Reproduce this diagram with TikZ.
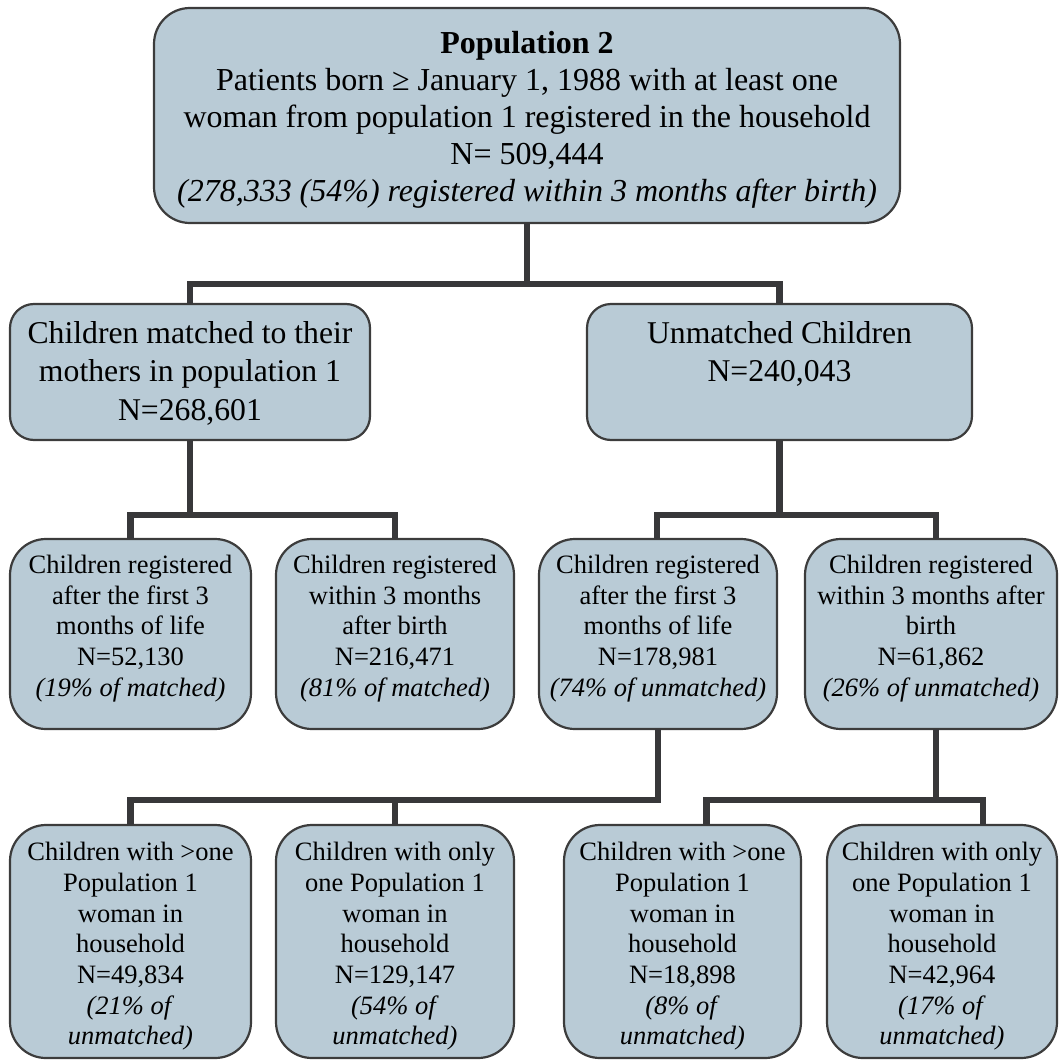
\documentclass[tikz,border=0pt]{standalone}
\usepackage{fontspec}
\setmainfont{Liberation Serif}
\usetikzlibrary{calc}

\definecolor{boxfill}{HTML}{B9CBD6}
\definecolor{boxline}{HTML}{3C3C3C}
\definecolor{linkc}{HTML}{38383A}

\tikzset{
  box/.style={draw=boxline, line width=2.2pt, fill=boxfill,
    rounded corners=#1, anchor=north west, inner sep=0pt, outer sep=0pt},
  box/.default=36pt,
  txt/.style={align=center, inner sep=0pt, anchor=north, text=black},
  fbig/.style={font=\fontsize{32}{37}\selectfont},
  fmid/.style={font=\fontsize{31.7}{38.5}\selectfont},
  fsmall/.style={font=\fontsize{26.5}{30.7}\selectfont},
  conn/.style={draw=linkc, line width=6.5pt, line join=miter}
}

\begin{document}
\begin{tikzpicture}[x=1pt, y=-1pt]
\useasboundingbox (0,0) rectangle (1059,1062);

% levels of the horizontal connector bars
\coordinate (lvA) at (0,284);
\coordinate (lvB) at (0,515);
\coordinate (lvC) at (0,800);

% boxes
\node[box, minimum width=746pt, minimum height=215pt] (top) at (154,8) {};
\node[box=24pt, minimum width=360pt, minimum height=136pt] (ml) at (10,304) {};
\node[box=24pt, minimum width=385pt, minimum height=136pt] (mr) at (587,304) {};

\node[box, minimum width=241pt, minimum height=190pt] (a3) at (10,539) {};
\node[box, minimum width=238pt, minimum height=190pt] (b3) at (276,539) {};
\node[box, minimum width=238pt, minimum height=190pt] (c3) at (539,539) {};
\node[box, minimum width=252pt, minimum height=190pt] (d3) at (805,539) {};

\node[box, minimum width=241pt, minimum height=233pt] (a4) at (10,825) {};
\node[box, minimum width=238pt, minimum height=233pt] (b4) at (276,825) {};
\node[box, minimum width=237pt, minimum height=233pt] (c4) at (564,825) {};
\node[box, minimum width=230pt, minimum height=233pt] (d4) at (827,825) {};

% texts
\node[txt, fbig, anchor=center] (ttop) at ([yshift=-4pt]top.center)
  {\textbf{Population 2}\\
   Patients born ≥ January 1, 1988 with at least one\\
   woman from population 1 registered in the household\\
   N= 509,444\\
   \textit{(278,333 (54\%) registered within 3 months after birth)}};

\node[txt, fmid] (tml) at ([yshift=-17pt]ml.north)
  {Children matched to their\\mothers in population 1\\N=268,601};
\node[txt, fmid] (tmr) at ([yshift=-17pt]mr.north)
  {Unmatched Children\\N=240,043};

\node[txt, fsmall] (ta3) at ([yshift=-16pt]a3.north)
  {Children registered\\after the first 3\\months of life\\N=52,130\\\textit{(19\% of matched)}};
\node[txt, fsmall] (tb3) at ([yshift=-16pt]b3.north)
  {Children registered\\within 3 months\\after birth\\N=216,471\\\textit{(81\% of matched)}};
\node[txt, fsmall] (tc3) at ([yshift=-16pt]c3.north)
  {Children registered\\after the first 3\\months of life\\N=178,981\\\textit{(74\% of unmatched)}};
\node[txt, fsmall] (td3) at ([yshift=-16pt]d3.north)
  {Children registered\\within 3 months after\\birth\\N=61,862\\\textit{(26\% of unmatched)}};

\node[txt, fsmall] (ta4) at ([yshift=-17pt]a4.north)
  {Children with >one\\Population 1\\woman in\\household\\N=49,834\\\textit{(21\% of}\\\textit{unmatched)}};
\node[txt, fsmall] (tb4) at ([yshift=-17pt]b4.north)
  {Children with only\\one Population 1\\woman in\\household\\N=129,147\\\textit{(54\% of}\\\textit{unmatched)}};
\node[txt, fsmall] (tc4) at ([yshift=-17pt]c4.north)
  {Children with >one\\Population 1\\woman in\\household\\N=18,898\\\textit{(8\% of}\\\textit{unmatched)}};
\node[txt, fsmall] (td4) at ([yshift=-17pt]d4.north)
  {Children with only\\one Population 1\\woman in\\household\\N=42,964\\\textit{(17\% of}\\\textit{unmatched)}};

% drop points on the bottom row that sit off the box centres
\coordinate (c4t) at ([xshift=24pt]c4.north);
\coordinate (d4t) at ([xshift=41pt]d4.north);

% connectors
\draw[conn] (top.south) -- (top.south |- lvA);
\draw[conn] (ml.north) |- (mr.north |- lvA) -- (mr.north);

\draw[conn] (ml.south) -- (ml.south |- lvB);
\draw[conn] (a3.north) |- (b3.north |- lvB) -- (b3.north);
\draw[conn] (mr.south) -- (mr.south |- lvB);
\draw[conn] ([xshift=-1pt]c3.north) |- ([xshift=5pt]d3.north |- lvB) -- ([xshift=5pt]d3.north);

\draw[conn] (a4.north) |- (c3.south |- lvC) -- (c3.south);
\draw[conn] (b4.north) -- (b4.north |- lvC);
\draw[conn] ([xshift=5pt]d3.south) -- ([xshift=5pt]d3.south |- lvC);
\draw[conn] (c4t) |- (d4t |- lvC) -- (d4t);
\end{tikzpicture}
\end{document}
